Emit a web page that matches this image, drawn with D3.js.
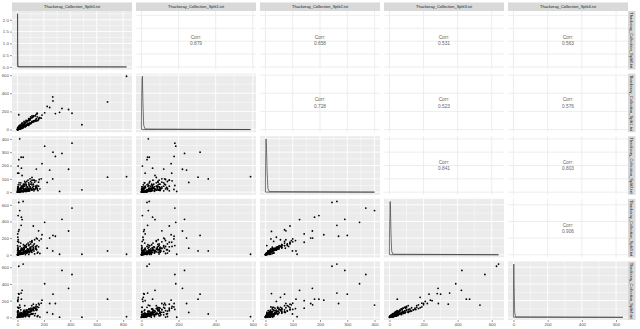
<!DOCTYPE html>
<html>
<head>
<meta charset="utf-8">
<script src="https://cdn.jsdelivr.net/npm/d3@7"></script>
<style>
body { margin: 0; background: #fff; }
text { font-family: "Liberation Sans", Arial, sans-serif; }
</style>
</head>
<body>
<div class="canvas"></div>
<script>
// variable names (strip labels)
const labels = [
  'Thackeray_Collection_Split0.txt', 'Thackeray_Collection_Split1.txt',
  'Thackeray_Collection_Split2.txt', 'Thackeray_Collection_Split3.txt',
  'Thackeray_Collection_Split4.txt'
];

// one value per document in each split, same order in every array
const split0 = [826,682,267,269,488,413,387,337,244,206,287,319,17,10,43,5,35,28,186,12,8,225,143,10,2,150,180,120,30,160,3,6,2,
  2,3,5,4,8,10,12,7,15,14, 18,20,22,25,24,28,30,32,35,33, 38,40,42,45,48,50,52,55,58,60,
  62,65,68,70,72,75,78,80,84,88, 90,95,98,102,105,110,115,120,125,130, 135,140,145,150,10,25,40,20,60,35,
  80,50,100,65,120,85,140,100,160,110, 15,5,30,20,45,25,55,70,90,110, 130,170,60,85,3,1,2,4,1,0,
  1,0,6,9,13,16,19,23,27,31, 36,44,47,53,57,63,67,73,77,83, 87,93,97,108,118,128,138,148,155,165,
  5,12,18,26,9,34,22,41,15,48, 30,55,8,62,38,70,44,20,75,58, 3,6,85,95,50,105,66,28,12,110, 92,135,16,4,7,24,33,2,46,120];
const split1 = [588,305,360,316,53,180,221,232,243,185,176,190,37,30,42,5,73,33,160,15,12,255,120,163,20,140,125,150,60,110,8,10,4,
  3,1,8,2,12,4,18,5,9,24, 10,28,12,34,16,40,18,22,45,20, 50,26,30,58,32,38,66,35,70,42,
  80,45,48,88,50,95,55,62,105,60, 70,110,66,125,75,80,135,85,150,90, 100,165,95,175,25,10,20,40,35,60,
  50,80,65,100,85,120,100,140,120,150, 5,15,20,30,35,18,45,55,70,90, 95,130,30,45,3,2,1,3,1,0,
  0,1,8,2,20,6,30,12,15,40, 20,55,30,35,70,40,90,50,60,100, 55,120,70,80,140,95,110,180,100,130,
  12,6,25,14,20,22,38,30,8,55, 45,35,30,48,62,58,20,52,85,70, 10,2,60,110,90,75,40,18,40,130, 100,150,4,9,3,30,12,6,52,95];
const split2 = [116,112,99,300,17,368,172,291,166,345,268,5,400,244,262,196,125,262,214,70,22,73,173,142,142,30,100,90,180,75,40,55,30,
  0,4,1,6,2,9,3,1,14,2, 20,5,25,4,30,8,6,35,10,12, 45,8,15,50,10,20,60,12,25,70,
  15,30,5,80,20,40,10,90,25,50, 15,100,30,60,20,110,35,45,10,75, 25,85,40,20,5,15,10,30,15,40,
  20,45,30,60,25,70,35,80,45,90, 25,35,45,55,60,70,80,10,12,15, 20,25,5,8,10,15,20,25,5,0,
  2,0,5,0,12,3,18,2,8,25, 4,30,10,45,6,20,55,8,35,15, 60,10,40,70,20,90,30,50,12,95,
  3,8,4,12,6,7,18,5,20,15, 25,12,10,20,30,14,3,22,35,10, 28,40,25,40,18,22,48,35,15,55, 20,45,2,6,1,2,9,12,30,60];
const split3 = [6,46,46,232,6,560,285,425,200,389,222,6,531,628,640,470,422,353,240,300,280,79,200,150,250,20,190,345,451,287,210,180,160,
  1,8,2,15,4,20,6,3,25,8, 35,10,40,12,50,15,20,60,18,25, 70,22,30,85,28,35,95,30,45,110,
  35,50,20,125,40,60,30,140,45,70, 35,155,55,80,40,170,60,90,45,180, 70,100,60,190,8,5,12,25,30,55,
  45,70,60,90,70,110,80,130,95,150, 40,60,80,100,120,140,110,20,25,30, 10,15,2,4,30,50,70,90,110,1,
  0,2,12,4,30,10,45,15,25,60, 10,50,35,80,20,45,100,30,70,50, 120,40,90,160,60,130,75,110,30,170,
  6,18,10,30,22,15,40,20,45,35, 55,25,35,40,65,30,12,50,60,45, 55,75,55,80,65,50,90,70,28,100, 35,95,6,14,3,8,24,20,22,115];
const split4 = [8,218,40,277,2,513,348,562,166,402,166,2,147,612,638,218,324,290,206,277,284,59,150,110,200,10,170,158,218,166,190,240,120,
  4,2,10,6,12,8,2,14,10,20, 15,25,20,30,22,35,8,40,30,12, 45,40,15,55,45,20,60,50,25,70,
  50,30,45,80,20,75,55,90,30,100, 60,95,35,110,70,105,40,120,80,115, 45,130,85,125,3,8,6,18,20,45,
  60,35,80,50,100,60,110,75,120,95, 15,80,45,120,70,90,140,30,10,40, 20,3,8,12,15,70,35,120,60,2,
  1,0,8,6,22,16,38,10,30,50, 14,40,28,70,25,38,90,35,55,60, 100,30,80,140,45,115,90,95,20,150,
  9,10,20,15,30,12,26,35,38,25, 40,30,20,55,45,38,8,60,50,30, 45,65,70,60,85,40,75,52,42,80, 65,110,3,5,8,12,18,16,28,90];

// correlations for the upper panels, row by row
const corrRow0 = [0.879, 0.658, 0.531, 0.563];
const corrRow1 = [0.728, 0.523, 0.576];
const corrRow2 = [0.841, 0.803];
const corrRow3 = [0.906];

// diagonal density outlines
const densX0 = [0, 0.5, 1, 1.5, 2.5, 4, 7, 826];
const densY0 = [0.72, 1.5, 2.26, 1.7, 0.7, 0.1, 0.01, 0.0005];
const densX1 = [0, 1, 3, 5, 8, 12, 20, 588];
const densY1 = [0.2, 0.6, 0.95, 1.0, 0.5, 0.08, 0.01, 0.0005];
const densX2 = [0, 1, 2, 4, 6, 9, 14, 400];
const densY2 = [0.3, 0.75, 1.0, 0.8, 0.4, 0.07, 0.01, 0.0005];
const densX3 = [0, 2, 4, 6, 9, 13, 20, 640];
const densY3 = [0.3, 0.7, 1.0, 0.85, 0.4, 0.07, 0.01, 0.0005];
const densX4 = [0, 1, 2, 4, 7, 12, 640];
const densY4 = [0.42, 0.8, 1.0, 0.6, 0.1, 0.01, 0.0005];

// axis breaks
const ticks0 = [0, 200, 400, 600, 800];
const ticks1 = [0, 200, 400, 600];
const ticks2 = [0, 100, 200, 300, 400];
const ticks3 = [0, 200, 400, 600];
const ticks4 = [0, 200, 400, 600];
const densTicks = [0, 0.5, 1, 1.5, 2];

const splits = [split0, split1, split2, split3, split4];
const ticks = [ticks0, ticks1, ticks2, ticks3, ticks4];
const densX = [densX0, densX1, densX2, densX3, densX4];
const densY = [densY0, densY1, densY2, densY3, densY4];
const corrs = [corrRow0, corrRow1, corrRow2, corrRow3];

// layout
const padLeft = 12, padRight = 628, padTop = 11, padBottom = 320, gap = 4, n = 5;
const pw = (padRight - padLeft - gap * (n - 1)) / n;
const ph = (padBottom - padTop - gap * (n - 1)) / n;
const px = j => padLeft + j * (pw + gap);
const py = i => padTop + i * (ph + gap);

const svg = d3.select('.canvas')
    .append('svg')
    .attr('width', 640)
    .attr('height', 329);

// expand a [min,max] by 5% each side like ggplot
const expand = (lo, hi) => [lo - (hi - lo) * 0.05, hi + (hi - lo) * 0.05];

const xs = splits.map((s, j) => d3.scaleLinear()
    .domain(expand(0, d3.max(s)))
    .range([px(j), px(j) + pw]));
const ys = splits.map((s, i) => d3.scaleLinear()
    .domain(expand(0, d3.max(s)))
    .range([py(i) + ph, py(i)]));
const yDens0 = d3.scaleLinear()
    .domain(expand(0, d3.max(densY0)))
    .range([py(0) + ph, py(0)]);

const minors = (t, dom) => {
  const step = t[1] - t[0];
  const out = [];
  for (let k = -1; k < t.length; k++) {
    const v = t[0] + step * (k + 0.5);
    if (v > dom[0] && v < dom[1]) out.push(v);
  }
  return out;
};

function drawGrid(g, x, xt, y, yt, colour, withMinor) {
  const x0 = x.range()[0], x1 = x.range()[1];
  const y0 = y.range()[1], y1 = y.range()[0];
  if (withMinor) {
    g.selectAll('.mx').data(minors(xt, x.domain())).enter().append('line')
      .attr('x1', d => x(d)).attr('x2', d => x(d)).attr('y1', y0).attr('y2', y1)
      .attr('stroke', colour).attr('stroke-width', 0.45);
    g.selectAll('.my').data(minors(yt, y.domain())).enter().append('line')
      .attr('y1', d => y(d)).attr('y2', d => y(d)).attr('x1', x0).attr('x2', x1)
      .attr('stroke', colour).attr('stroke-width', 0.45);
  }
  g.selectAll('.gx').data(xt).enter().append('line')
    .attr('x1', d => x(d)).attr('x2', d => x(d)).attr('y1', y0).attr('y2', y1)
    .attr('stroke', colour).attr('stroke-width', 0.9);
  g.selectAll('.gy').data(yt).enter().append('line')
    .attr('y1', d => y(d)).attr('y2', d => y(d)).attr('x1', x0).attr('x2', x1)
    .attr('stroke', colour).attr('stroke-width', 0.9);
}

for (let i = 0; i < n; i++) {
  for (let j = 0; j < n; j++) {
    const g = svg.append('g');
    const x = xs[j];
    const y = i === 0 ? yDens0 : ys[i];
    const yt = i === 0 ? densTicks : ticks[i];

    if (i < j) {
      // correlation panel
      g.append('rect').attr('x', px(j)).attr('y', py(i)).attr('width', pw).attr('height', ph)
        .attr('fill', '#fff');
      drawGrid(g, x, ticks[j], ys[i], ticks[i], '#ebebeb', false);
      const cx = px(j) + pw / 2, cy = py(i) + ph / 2;
      g.append('text').attr('x', cx).attr('y', cy - 1.5)
        .attr('text-anchor', 'middle').attr('font-size', 4.8).attr('fill', '#666')
        .text('Corr:');
      g.append('text').attr('x', cx).attr('y', cy + 4.8)
        .attr('text-anchor', 'middle').attr('font-size', 4.8).attr('fill', '#666')
        .text(d3.format('.3f')(corrs[i][j - i - 1]));
      continue;
    }

    g.append('rect').attr('x', px(j)).attr('y', py(i)).attr('width', pw).attr('height', ph)
      .attr('fill', '#ebebeb');
    drawGrid(g, x, ticks[j], y, yt, '#fff', true);

    if (i === j) {
      const yd = i === 0 ? yDens0 : d3.scaleLinear()
          .domain(expand(0, d3.max(densY[i])))
          .range([py(i) + ph, py(i)]);
      const pts = densX[i].map((v, k) => [v, densY[i][k]]);
      const poly = [[densX[i][0], 0], ...pts, [densX[i][densX[i].length - 1], 0]];
      const line = d3.line().x(d => x(d[0])).y(d => yd(d[1]));
      g.append('path').attr('d', line(poly) + 'Z')
        .attr('fill', 'none').attr('stroke', '#222').attr('stroke-width', 0.6);
    } else {
      g.selectAll('circle').data(splits[j].map((v, k) => [v, splits[i][k]]))
        .enter().append('circle')
        .attr('cx', d => x(d[0]))
        .attr('cy', d => y(d[1]))
        .attr('r', 0.9)
        .attr('fill', '#000');
    }
  }
}

// top strips
labels.forEach((lab, j) => {
  svg.append('rect').attr('x', px(j)).attr('y', 2.5).attr('width', pw).attr('height', padTop - 2.5)
    .attr('fill', '#d9d9d9');
  svg.append('text').attr('x', px(j) + pw / 2).attr('y', 8.3)
    .attr('text-anchor', 'middle').attr('font-size', 4).attr('fill', '#1a1a1a').text(lab);
});

// right strips
labels.forEach((lab, i) => {
  svg.append('rect').attr('x', padRight).attr('y', py(i)).attr('width', 7.5).attr('height', ph)
    .attr('fill', '#d9d9d9');
  svg.append('text')
    .attr('transform', `translate(${padRight + 2.3},${py(i) + ph / 2}) rotate(90)`)
    .attr('text-anchor', 'middle').attr('font-size', 4).attr('fill', '#1a1a1a').text(lab);
});

// axes
function styleAxis(sel) {
  sel.select('.domain').remove();
  sel.selectAll('line').attr('stroke', '#333').attr('stroke-width', 0.5);
  sel.selectAll('text').attr('font-size', 4.3).attr('fill', '#4d4d4d')
    .attr('font-family', '"Liberation Sans", Arial, sans-serif');
}

for (let i = 0; i < n; i++) {
  const yAxis = i === 0
    ? d3.axisLeft(yDens0).tickValues(densTicks).tickFormat(d3.format('.1f'))
    : d3.axisLeft(ys[i]).tickValues(ticks[i]).tickFormat(d3.format('d'));
  svg.append('g').attr('transform', `translate(${padLeft},0)`)
    .call(yAxis.tickSize(2).tickPadding(1.2))
    .call(styleAxis);
}
for (let j = 0; j < n; j++) {
  svg.append('g').attr('transform', `translate(0,${padBottom})`)
    .call(d3.axisBottom(xs[j]).tickValues(ticks[j]).tickFormat(d3.format('d')).tickSize(2).tickPadding(1.2))
    .call(styleAxis);
}
</script>
</body>
</html>
